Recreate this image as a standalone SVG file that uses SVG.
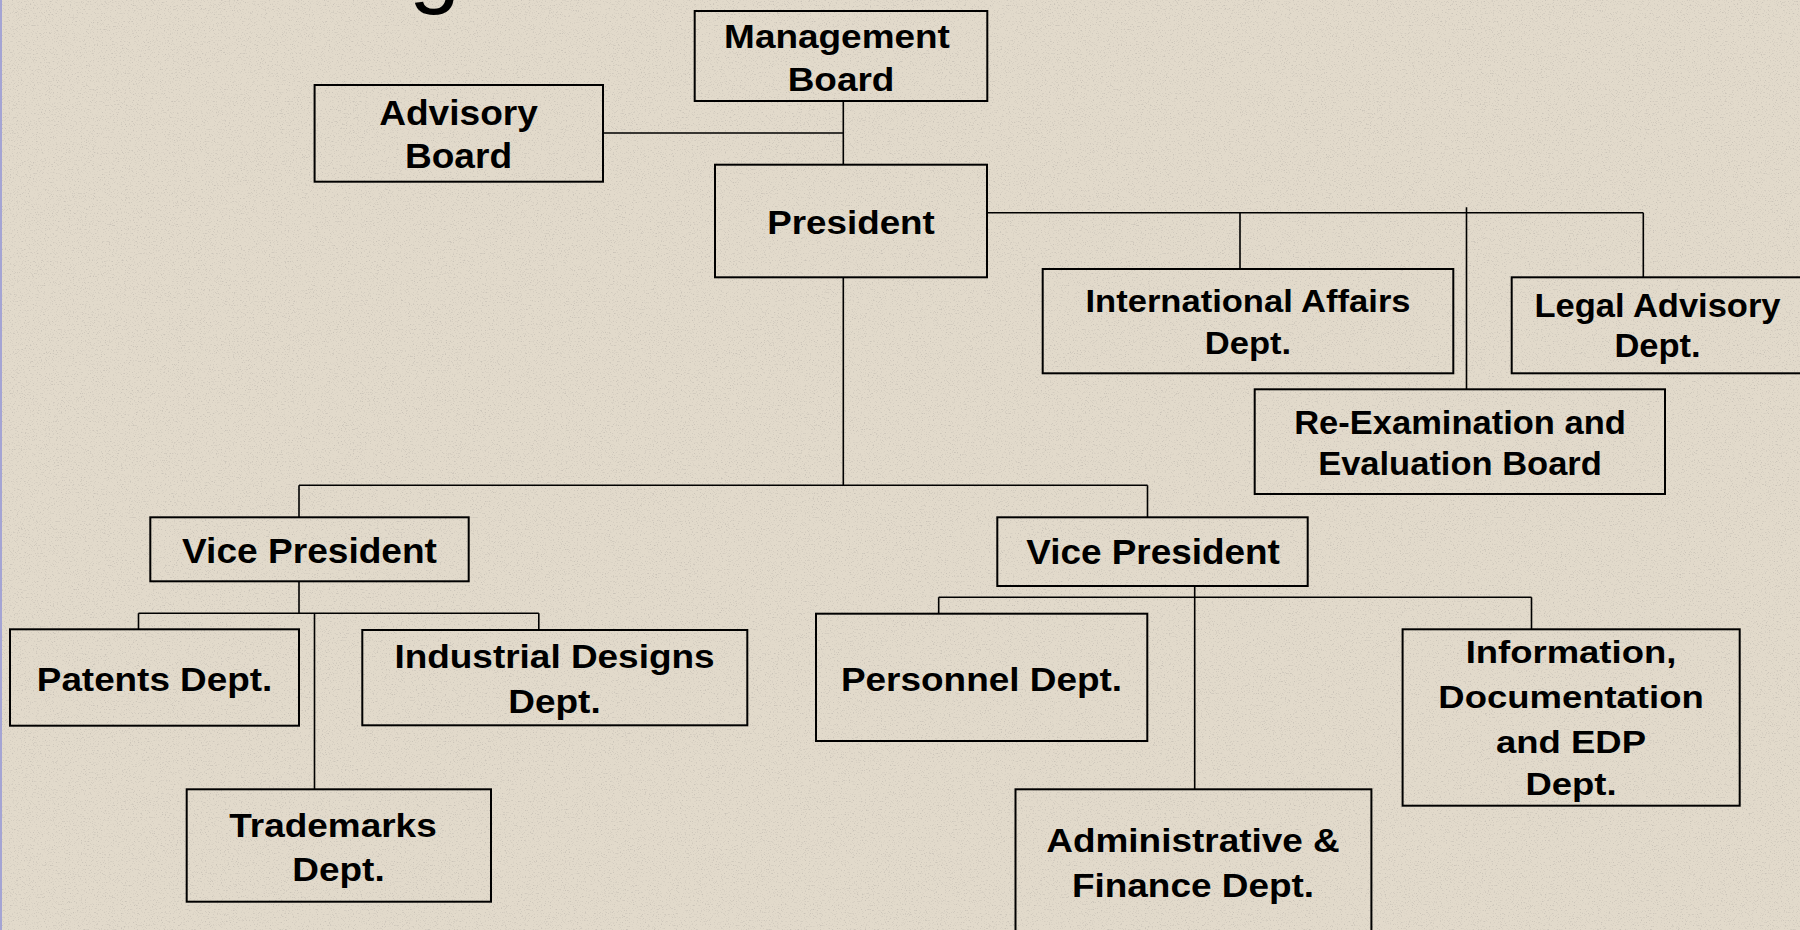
<svg xmlns="http://www.w3.org/2000/svg" width="1800" height="930" viewBox="0 0 1800 930">
<defs>
<style>
.box{fill:none;stroke:#000;stroke-width:2}
.ln{fill:none;stroke:#000;stroke-width:1.6}
.t{font-family:"Liberation Sans",Arial,sans-serif;font-weight:bold;fill:#000;text-anchor:middle}
.title{font-family:"Liberation Sans",Arial,sans-serif;fill:#000}
</style>
<filter id="noise" x="0" y="0" width="100%" height="100%">
<feTurbulence type="fractalNoise" baseFrequency="0.75" numOctaves="3" seed="7" result="n"/>
<feColorMatrix in="n" type="matrix" values="0 0 0 0 0.45  0 0 0 0 0.42  0 0 0 0 0.38  -4 0 0 0 1.75"/>
</filter>
</defs>
<rect x="0" y="0" width="1800" height="930" fill="#E2DACB"/>
<rect x="0" y="0" width="1800" height="930" filter="url(#noise)" opacity="0.5"/>
<rect x="0" y="0" width="2" height="930" fill="#A4A4D4"/>
<text class="title" x="409" y="-4" font-size="92">g</text>

<g id="connectors">
<path class="ln" d="M843.3,101 V164.7 M603,133 H843.3"/>
<path class="ln" d="M843.3,277.3 V485.3 M299,485.3 H1147.5 M299,485.3 V517.3 M1147.5,485.3 V517.3"/>
<path class="ln" d="M987,212.7 H1643.3 M1240,212.7 V269 M1643.3,212.7 V277.3 M1466.5,207.3 V389.3"/>
<path class="ln" d="M299,581.3 V613.3 M138.5,613.3 H538.8 M138.5,613.3 V629.3 M538.8,613.3 V630 M314.5,613.3 V789.3"/>
<path class="ln" d="M938.7,597.3 H1531.5 M938.7,597.3 V613.7 M1531.5,597.3 V629.3 M1194.7,586 V789.3"/>
</g>

<g id="advisory-board">
<rect class="box" x="314.6" y="85" width="288.4" height="96.7"/>
<g transform="translate(458.5,0) scale(1.06,1)"><text class="t" font-size="35"><tspan x="0" y="125">Advisory</tspan><tspan x="0" y="168.3">Board</tspan></text></g>
</g>

<g id="management-board">
<rect class="box" x="694.7" y="11" width="292.6" height="90"/>
<g transform="translate(837,0) scale(1.12,1)"><text class="t" font-size="33" x="0" y="47.7">Management</text></g>
<g transform="translate(841,0) scale(1.12,1)"><text class="t" font-size="33" x="0" y="90.7">Board</text></g>
</g>

<g id="president">
<rect class="box" x="715" y="164.7" width="272" height="112.6"/>
<g transform="translate(851,0) scale(1.115,1)"><text class="t" font-size="33" x="0" y="234">President</text></g>
</g>

<g id="international-affairs">
<rect class="box" x="1042.7" y="269" width="410.6" height="104.3"/>
<g transform="translate(1248,0) scale(1.08,1)"><text class="t" font-size="32"><tspan x="0" y="312.3">International Affairs</tspan><tspan x="0" y="354">Dept.</tspan></text></g>
</g>

<g id="legal-advisory">
<rect class="box" x="1511.7" y="277.3" width="300" height="96"/>
<g transform="translate(1657.5,0) scale(1.03,1)"><text class="t" font-size="33.5"><tspan x="0" y="316.7">Legal Advisory</tspan><tspan x="0" y="357.3">Dept.</tspan></text></g>
</g>

<g id="re-examination">
<rect class="box" x="1254.7" y="389.3" width="410.3" height="104.7"/>
<g transform="translate(1460,0) scale(1.03,1)"><text class="t" font-size="33.5"><tspan x="0" y="434">Re-Examination and</tspan><tspan x="0" y="475">Evaluation Board</tspan></text></g>
</g>

<g id="vp-left">
<rect class="box" x="150.3" y="517.3" width="318.4" height="64"/>
<g transform="translate(309.5,0) scale(1.045,1)"><text class="t" font-size="35.5" x="0" y="562.7">Vice President</text></g>
</g>

<g id="vp-right">
<rect class="box" x="997.3" y="517.3" width="310.4" height="68.7"/>
<g transform="translate(1153,0) scale(1.025,1)"><text class="t" font-size="36" x="0" y="564.3">Vice President</text></g>
</g>

<g id="patents">
<rect class="box" x="10" y="629.3" width="289" height="96.4"/>
<g transform="translate(154.5,0) scale(1.1,1)"><text class="t" font-size="33.5" x="0" y="690.7">Patents Dept.</text></g>
</g>

<g id="industrial-designs">
<rect class="box" x="362.3" y="630" width="385" height="95.3"/>
<g transform="translate(554.5,0) scale(1.12,1)"><text class="t" font-size="33"><tspan x="0" y="668.3">Industrial Designs</tspan><tspan x="0" y="712.7">Dept.</tspan></text></g>
</g>

<g id="trademarks">
<rect class="box" x="186.7" y="789.3" width="304.3" height="112.4"/>
<g transform="translate(333,0) scale(1.12,1)"><text class="t" font-size="33" x="0" y="836.7">Trademarks</text></g>
<g transform="translate(338.5,0) scale(1.12,1)"><text class="t" font-size="33" x="0" y="881">Dept.</text></g>
</g>

<g id="personnel">
<rect class="box" x="816" y="613.7" width="331.3" height="127.3"/>
<g transform="translate(981.5,0) scale(1.12,1)"><text class="t" font-size="33" x="0" y="690.7">Personnel Dept.</text></g>
</g>

<g id="administrative-finance">
<rect class="box" x="1015.5" y="789.3" width="355.9" height="150"/>
<g transform="translate(1193,0) scale(1.12,1)"><text class="t" font-size="33"><tspan x="0" y="851.7">Administrative &amp;</tspan><tspan x="0" y="896.7">Finance Dept.</tspan></text></g>
</g>

<g id="information-documentation">
<rect class="box" x="1402.6" y="629.3" width="337.1" height="176.4"/>
<g transform="translate(1571,0) scale(1.14,1)"><text class="t" font-size="32"><tspan x="0" y="663.3">Information,</tspan><tspan x="0" y="708.3">Documentation</tspan><tspan x="0" y="753.3">and EDP</tspan><tspan x="0" y="795">Dept.</tspan></text></g>
</g>
</svg>
